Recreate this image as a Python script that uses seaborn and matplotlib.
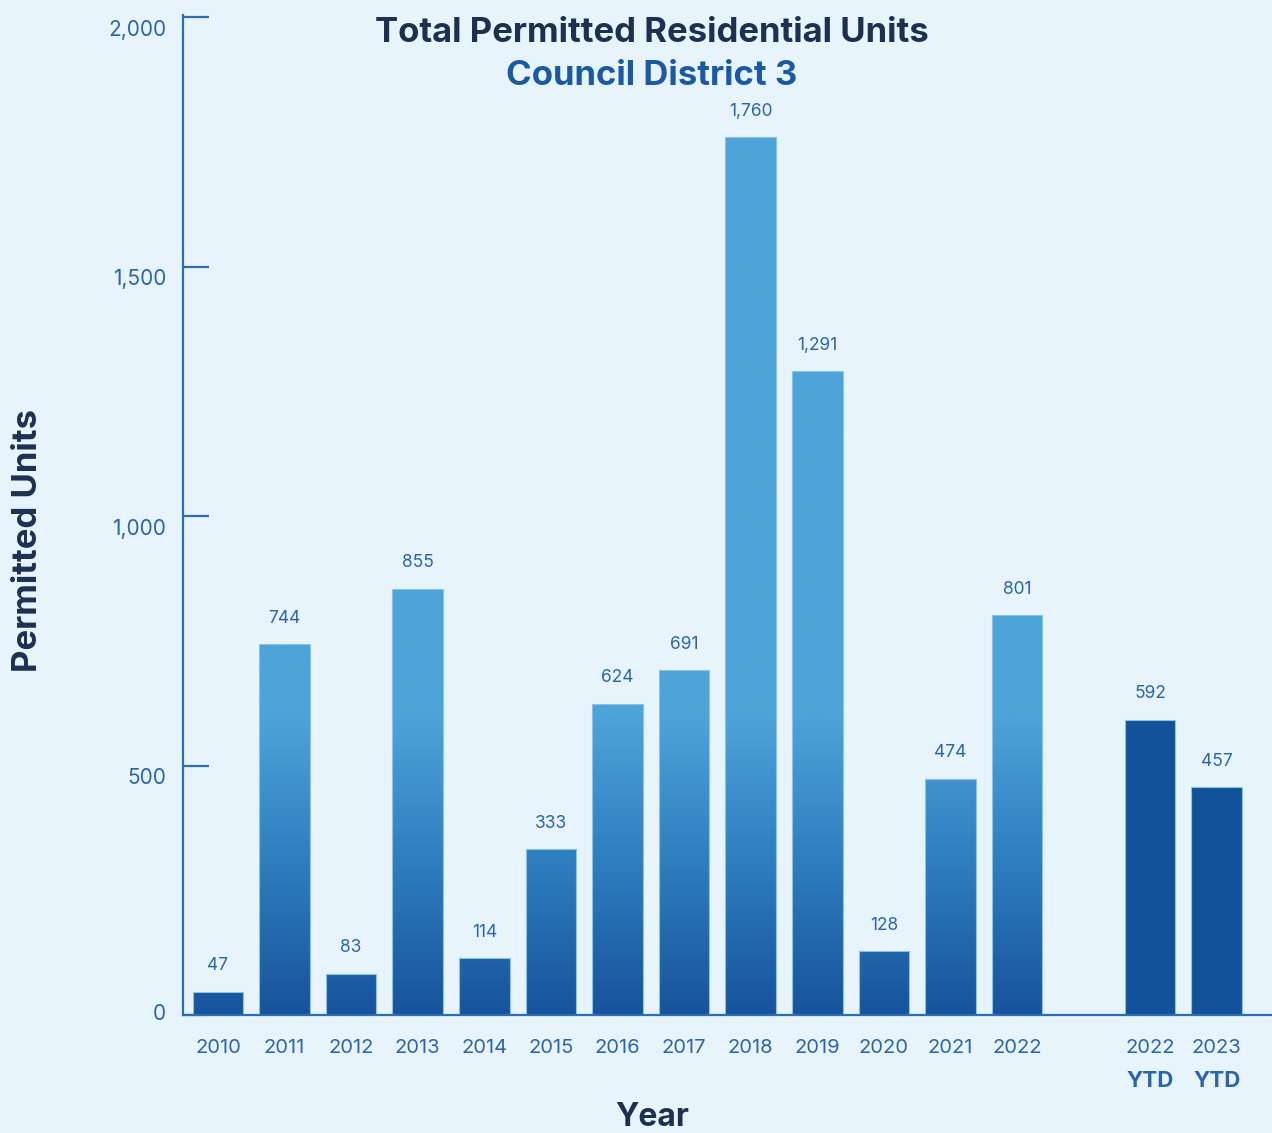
import numpy as np
import pandas as pd
import matplotlib
matplotlib.use("Agg")
import matplotlib.pyplot as plt
from matplotlib.colors import LinearSegmentedColormap, Normalize, to_hex
from matplotlib.transforms import ScaledTranslation
import seaborn as sns

# Permitted residential units by year (last two are year-to-date figures)
years = ["2010", "2011", "2012", "2013", "2014", "2015", "2016", "2017",
         "2018", "2019", "2020", "2021", "2022", "2022 YTD", "2023 YTD"]
units = [47, 744, 83, 855, 114, 333, 624, 691, 1760, 1291, 128, 474, 801, 592, 457]
period = ["Annual"] * 13 + ["YTD"] * 2

y_ticks = [0, 500, 1000, 1500, 2000]

BG = "#E7F4FC"
NAVY = "#1E3050"
BLUE_TXT = "#2C65A6"
SPINE = "#2E6CB3"
DARK = "#17539C"
LIGHT = "#4DA4D9"
YTD_COLOR = "#12529A"

sns.set_theme(style="white")
plt.rcParams["font.family"] = ["Inter", "DejaVu Sans"]

df = pd.DataFrame({"year": years, "units": units, "period": period})
order = years[:13] + [""] + years[13:]   # empty slot separates the YTD pair

fig = plt.figure(figsize=(12.72, 11.33), dpi=100, facecolor=BG)
ax = fig.add_axes([183 / 1272, 118 / 1133, 1 - 183 / 1272, (1015 - 15) / 1133])
ax.set_facecolor(BG)

sns.barplot(data=df, x="year", y="units", hue="period", order=order,
            palette={"Annual": DARK, "YTD": YTD_COLOR}, dodge=False,
            width=0.76, legend=False, saturation=1, ax=ax,
            edgecolor="#8CC2E6", linewidth=0.8)

# vertical gradient fill for the annual bars
cmap = LinearSegmentedColormap.from_list("bars", [DARK, "#2E7DBE", LIGHT, LIGHT],
                                         N=256)
norm = Normalize(vmin=0, vmax=900)
for p in list(ax.patches):
    if to_hex(p.get_facecolor()).lower() != DARK.lower():
        continue
    x0, w, h = p.get_x(), p.get_width(), p.get_height()
    grad = np.linspace(0, h, 300).reshape(-1, 1)
    im = ax.imshow(grad, cmap=cmap, norm=norm, origin="lower", aspect="auto",
                   extent=[x0, x0 + w, 0, h], zorder=p.get_zorder() - 0.1,
                   interpolation="bilinear")
    im.set_clip_path(p)
    p.set_facecolor("none")

ax.set_xlim(-0.526, 15.83)
ax.set_ylim(0, 2005)

# value labels above each bar
val_by_year = dict(zip(years, units))
for i, cat in enumerate(order):
    if cat == "":
        continue
    v = val_by_year[cat]
    ax.annotate(f"{v:,}", xy=(i, v), xytext=(0, 12.5), textcoords="offset points",
                ha="center", va="bottom", fontsize=12.5, color=BLUE_TXT)

# x tick labels: year on first line, bold "YTD" below where applicable
ax.set_xticks(range(len(order)))
ax.set_xticklabels([c.split(" ")[0] for c in order], fontsize=14.5, color=BLUE_TXT)
ax.tick_params(axis="x", length=0, pad=17)
for i, cat in enumerate(order):
    if " " in cat:
        ax.annotate(cat.split(" ")[1], xy=(i, 0), xycoords=("data", "axes fraction"),
                    xytext=(0, -47.5), textcoords="offset points",
                    ha="center", va="center", fontsize=16, fontweight="bold",
                    color=BLUE_TXT)

# y axis: inward ticks, labels sitting just below each tick
ax.set_yticks(y_ticks)
ax.set_yticklabels([f"{t:,}" for t in y_ticks], fontsize=15, color=BLUE_TXT)
ax.tick_params(axis="y", left=True, direction="in", length=19, width=1.6,
               color=SPINE, pad=12)
for t, lab in zip(y_ticks, ax.get_yticklabels()):
    dy = 3 if t == 0 else -10.5
    lab.set_transform(lab.get_transform()
                      + ScaledTranslation(0, dy / 100, fig.dpi_scale_trans))

for side in ["top", "right"]:
    ax.spines[side].set_visible(False)
for side in ["left", "bottom"]:
    ax.spines[side].set_color(SPINE)
    ax.spines[side].set_linewidth(1.6)

ax.set_xlabel("")
ax.set_ylabel("")

fig.text(652 / 1272, 1 - 33 / 1133, "Total Permitted Residential Units",
         ha="center", va="center", fontsize=25, fontweight="bold", color=NAVY)
fig.text(652 / 1272, 1 - 76 / 1133, "Council District 3",
         ha="center", va="center", fontsize=25, fontweight="bold", color="#1B5AA2")
fig.text(28 / 1272, 1 - 541 / 1133, "Permitted Units", rotation=90,
         ha="center", va="center", fontsize=25, fontweight="bold", color=NAVY)
fig.text(652 / 1272, 1 - 1117 / 1133, "Year",
         ha="center", va="center", fontsize=23, fontweight="bold", color=NAVY)

fig.savefig("out.png", dpi=100, facecolor=BG)
